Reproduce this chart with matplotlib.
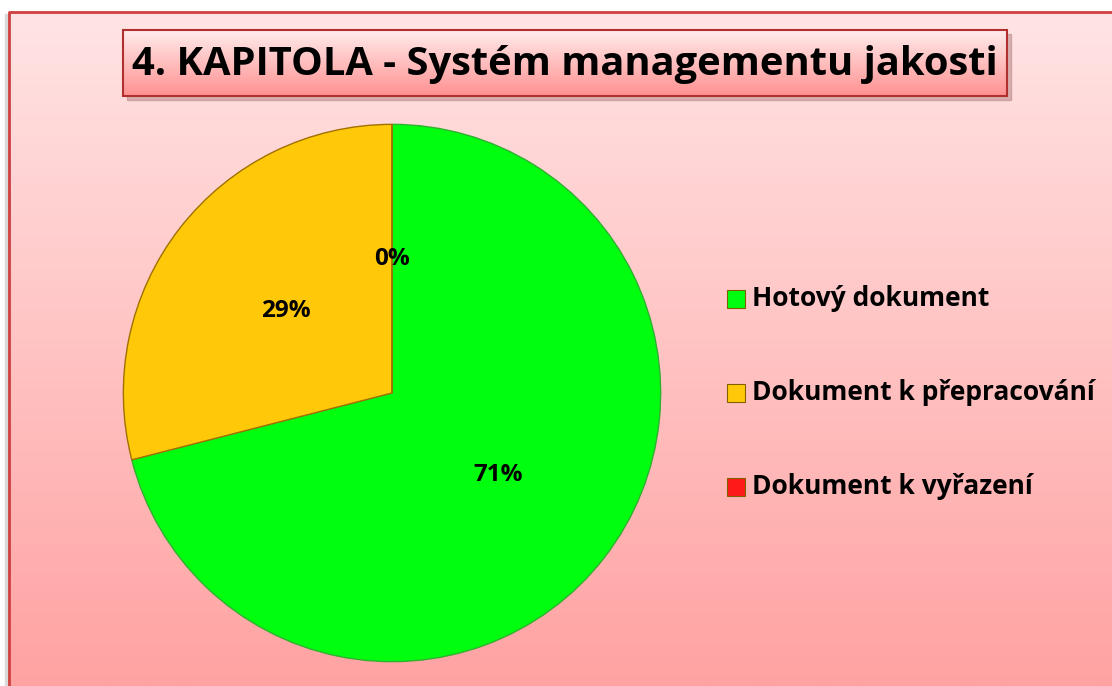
import numpy as np
import matplotlib.pyplot as plt
from matplotlib.patches import Rectangle
from matplotlib.colors import LinearSegmentedColormap

labels = ['Hotový dokument', 'Dokument k přepracování', 'Dokument k vyřazení']
shares = [71, 29, 0]
colors = ['#00FF0F', '#FFC90A', '#FF1A1A']
title = '4. KAPITOLA - Systém managementu jakosti'

plt.rcParams['font.family'] = ['Open Sans', 'DejaVu Sans']

W, H = 1112, 686
fig = plt.figure(figsize=(W / 100, H / 100), dpi=100)
fig.patch.set_facecolor('white')

# background panel with vertical gradient
bg = fig.add_axes([0, 0, 1, 1])
bg.set_xlim(0, W)
bg.set_ylim(H, 0)
bg.axis('off')
cmap = LinearSegmentedColormap.from_list('bg', ['#FFE4E4', '#FFA2A2'])
grad = np.linspace(0, 1, 256).reshape(-1, 1)
bg.add_patch(Rectangle((5, 14), 10, H, color='#d9d9d9', zorder=0))
bg.imshow(grad, cmap=cmap, extent=[9, W, H, 12], aspect='auto', zorder=1)
bg.plot([9, 9, W], [H, 12, 12], color='#D04040', lw=2, zorder=2)

# title box
bg.add_patch(Rectangle((127, 34), 884, 66, color='#b08080', alpha=0.5, zorder=3))
tgrad = LinearSegmentedColormap.from_list('tb', ['#FFECEC', '#FF9090'])
bg.imshow(grad, cmap=tgrad, extent=[123, 1007, 96, 30], aspect='auto', zorder=4)
bg.add_patch(Rectangle((123, 30), 884, 66, fill=False, ec='#B03030', lw=1.5, zorder=5))
bg.text(565, 64, title, ha='center', va='center', fontsize=28.7, fontweight='bold', zorder=6)

# pie
cx, cy, r = 392, 393, 270
ax = fig.add_axes([(cx - r) / W, (H - cy - r) / H, 2 * r / W, 2 * r / H])
wedges, texts, autotexts = ax.pie(shares, colors=colors, startangle=90, counterclock=False,
                                  autopct='%1.0f%%', pctdistance=0.5,
                                  wedgeprops=dict(edgecolor='#A07000', linewidth=1),
                                  textprops=dict(fontsize=17.5, fontweight='bold'))
wedges[0].set_edgecolor('#30B030')
ax.set_xlim(-1.005, 1.005)
ax.set_ylim(-1.005, 1.005)
ax.set_aspect('equal')

# legend
for i, (lab, col) in enumerate(zip(labels, colors)):
    y = 299 + i * 94
    bg.add_patch(Rectangle((727, y - 9), 18, 18, fc=col, ec='#806000', lw=0.8, zorder=6))
    bg.text(752, y, lab, ha='left', va='center', fontsize=19, fontweight='bold', zorder=6)

plt.savefig('out.png', dpi=100)
